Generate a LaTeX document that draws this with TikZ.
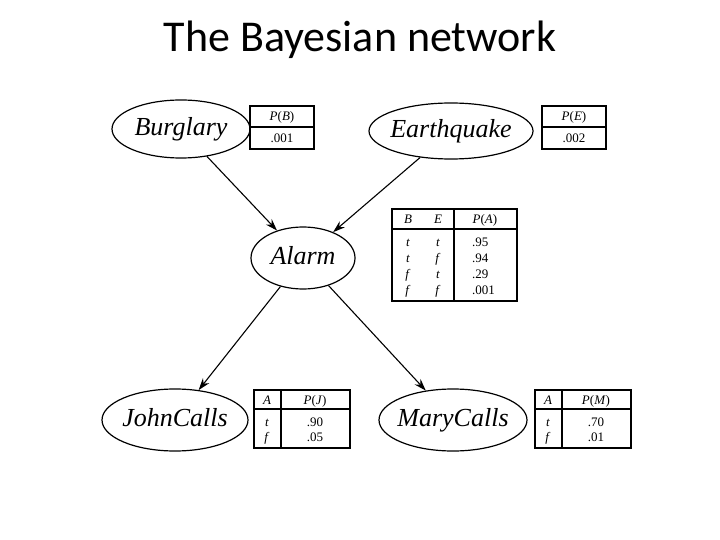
\documentclass[tikz,border=0pt]{standalone}
\usepackage{fontspec}
\setmainfont{Liberation Serif}
\newfontfamily\titlefont{Carlito}
\usetikzlibrary{shapes.geometric,arrows.meta}
\begin{document}
\begin{tikzpicture}[x=1pt,y=-1pt,
  var/.style={ellipse,draw,line width=1.2pt,font=\fontsize{26}{28}\selectfont\itshape,inner xsep=-30pt,inner ysep=-10pt,text height=18pt,text depth=5pt},
  tab/.style={draw,line width=1.5pt},
  tt/.style={font=\fontsize{13}{14}\selectfont,inner sep=0pt,text height=9pt,text depth=3pt},
  arr/.style={line width=1.1pt,-{Stealth[length=12pt,width=8pt]}}]
\useasboundingbox (0,0) rectangle (720,540);
\node[font=\titlefont\fontsize{44}{46}\selectfont] (title) at (360,40) {The Bayesian network};
\node[var,minimum width=138pt,minimum height=58pt] (B) at (181,129) {Burglary};
\node[var,minimum width=164pt,minimum height=56pt] (E) at (451,131) {Earthquake};
\node[var,minimum width=104pt,minimum height=62pt] (A) at (303,258) {Alarm};
\node[var,minimum width=146pt,minimum height=62pt] (J) at (175,420) {JohnCalls};
\node[var,minimum width=148pt,minimum height=62pt] (M) at (453,420) {MaryCalls};
\draw[arr] (B) -- (A);
\draw[arr] (E) -- (A);
\draw[arr] (A) -- (J);
\draw[arr] (A) -- (M);
% P(B)
\draw[tab] (250,106) rectangle (314,149);
\draw[tab,line width=2.5pt] (250,127) -- (314,127);
\node[tt] (pb) at (282,118) {\textit{P}(\textit{B})};
\node[tt] (pbv) at (282,140) {.001};
% P(E)
\draw[tab] (542,106) rectangle (606,149);
\draw[tab,line width=2.5pt] (542,127) -- (606,127);
\node[tt] (pe) at (574,118) {\textit{P}(\textit{E})};
\node[tt] (pev) at (574,140) {.002};
% Alarm table
\draw[tab] (392,209) rectangle (517,301);
\draw[tab,line width=2.5pt] (392,229) -- (517,229);
\draw[tab] (454,209) -- (454,301);
\node[tt] (hb) at (408,221) {\textit{B}};
\node[tt] (he) at (438,221) {\textit{E}};
\node[tt] (ha) at (485,221) {\textit{P}(\textit{A})};
\foreach \b/\e/\p/\y [count=\i] in {t/t/.95/244, t/f/.94/259, f/t/.29/275, f/f/.001/291}{
  \node[tt] (ab\i) at (408,\y) {\textit{\b}};
  \node[tt] (ae\i) at (438,\y) {\textit{\e}};
  \node[tt,anchor=west] (ap\i) at (472,\y) {\p};
}
% John table
\draw[tab] (254,390) rectangle (350,448);
\draw[tab,line width=2.5pt] (254,409) -- (350,409);
\draw[tab] (281,390) -- (281,448);
\node[tt] (jh) at (267,401) {\textit{A}};
\node[tt] (jp) at (315,401) {\textit{P}(\textit{J})};
\node[tt] (j1) at (267,423) {\textit{t}};
\node[tt] (j2) at (267,438) {\textit{f}};
\node[tt] (j3) at (315,423) {.90};
\node[tt] (j4) at (315,438) {.05};
% Mary table
\draw[tab] (535,390) rectangle (631,448);
\draw[tab,line width=2.5pt] (535,409) -- (631,409);
\draw[tab] (562,390) -- (562,448);
\node[tt] (mh) at (548,401) {\textit{A}};
\node[tt] (mp) at (596,401) {\textit{P}(\textit{M})};
\node[tt] (m1) at (548,423) {\textit{t}};
\node[tt] (m2) at (548,438) {\textit{f}};
\node[tt] (m3) at (596,423) {.70};
\node[tt] (m4) at (596,438) {.01};
\end{tikzpicture}
\end{document}
